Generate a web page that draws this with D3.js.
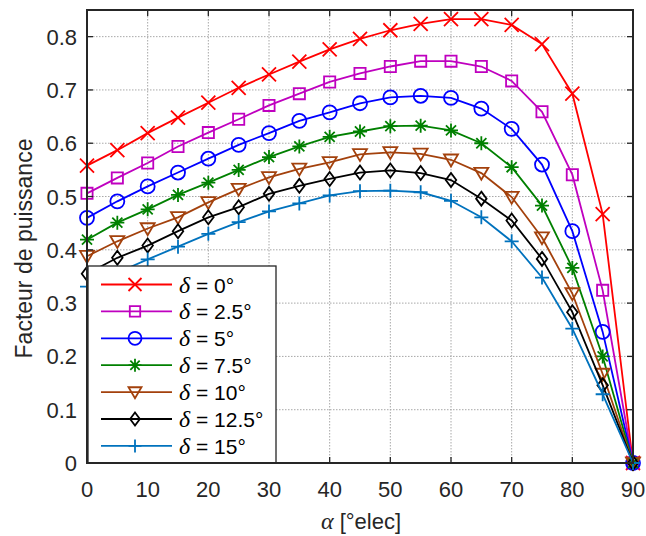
<!DOCTYPE html>
<html>
<head>
<meta charset="utf-8">
<script src="https://cdn.jsdelivr.net/npm/d3@7"></script>
<style>
  body { margin: 0; background: #fff; }
  text { font-family: "Liberation Sans", Arial, Helvetica, sans-serif; fill: #262626; }
</style>
</head>
<body>
<div id="chart"></div>
<script>
// data
var alpha = [0, 5, 10, 15, 20, 25, 30, 35, 40, 45, 50, 55, 60, 65, 70, 75, 80, 85, 90];
var deltaLabels = ["0", "2.5", "5", "7.5", "10", "12.5", "15"];
var pf_d0   = [0.558, 0.587, 0.619, 0.648, 0.676, 0.704, 0.729, 0.753, 0.776, 0.796, 0.812, 0.824, 0.833, 0.833, 0.822, 0.786, 0.693, 0.467, 0];
var pf_d25  = [0.506, 0.535, 0.563, 0.594, 0.620, 0.645, 0.671, 0.693, 0.715, 0.731, 0.744, 0.754, 0.754, 0.744, 0.717, 0.659, 0.541, 0.324, 0];
var pf_d5   = [0.460, 0.491, 0.519, 0.545, 0.571, 0.597, 0.619, 0.642, 0.658, 0.675, 0.686, 0.689, 0.685, 0.665, 0.627, 0.560, 0.435, 0.246, 0];
var pf_d75  = [0.419, 0.451, 0.476, 0.503, 0.526, 0.550, 0.574, 0.594, 0.612, 0.622, 0.632, 0.633, 0.624, 0.600, 0.555, 0.483, 0.366, 0.200, 0];
var pf_d10  = [0.388, 0.416, 0.440, 0.461, 0.489, 0.514, 0.536, 0.552, 0.564, 0.579, 0.583, 0.580, 0.569, 0.544, 0.499, 0.423, 0.318, 0.167, 0];
var pf_d125 = [0.355, 0.385, 0.408, 0.435, 0.461, 0.480, 0.505, 0.520, 0.533, 0.545, 0.549, 0.544, 0.531, 0.496, 0.455, 0.383, 0.283, 0.146, 0];
var pf_d15  = [0.331, 0.357, 0.382, 0.406, 0.430, 0.452, 0.472, 0.487, 0.502, 0.510, 0.511, 0.508, 0.492, 0.461, 0.416, 0.348, 0.252, 0.129, 0];
var xTicks = [0, 10, 20, 30, 40, 50, 60, 70, 80, 90];
var yTicks = [0, 0.1, 0.2, 0.3, 0.4, 0.5, 0.6, 0.7, 0.8];

var allSeries = [pf_d0, pf_d25, pf_d5, pf_d75, pf_d10, pf_d125, pf_d15];
var colors = ["#ff0000", "#bf00bf", "#0000ff", "#008000", "#a3410c", "#000000", "#0072bd"];
var markers = ["x", "square", "circle", "star", "triDown", "diamond", "plus"];

var width = 646, height = 536;
var pLeft = 87, pRight = 633, pTop = 10, pBottom = 463;

var svg = d3.select("#chart").append("svg")
    .attr("width", width)
    .attr("height", height);

var x = d3.scaleLinear().domain([0, 90]).range([pLeft, pRight]);
var y = d3.scaleLinear().domain([0, 0.85]).range([pBottom, pTop]);

// grid
var grid = svg.append("g");
grid.selectAll("line.gx").data(xTicks.slice(1, -1)).enter().append("line")
    .attr("x1", d => x(d)).attr("x2", d => x(d))
    .attr("y1", pTop).attr("y2", pBottom)
    .attr("stroke", "#a8a8a8").attr("stroke-width", 1)
    .attr("stroke-dasharray", "1.5,1.5");
grid.selectAll("line.gy").data(yTicks.slice(1)).enter().append("line")
    .attr("x1", pLeft).attr("x2", pRight)
    .attr("y1", d => y(d)).attr("y2", d => y(d))
    .attr("stroke", "#a8a8a8").attr("stroke-width", 1)
    .attr("stroke-dasharray", "1.5,1.5");

// marker shapes
function markerPath(type, s) {
    var h = s / 2;
    if (type == "x") return "M" + (-h) + "," + (-h) + "L" + h + "," + h + "M" + (-h) + "," + h + "L" + h + "," + (-h);
    if (type == "plus") return "M" + (-h) + ",0L" + h + ",0M0," + (-h) + "L0," + h;
    if (type == "star") {
        var k = h * 0.72;
        return "M" + (-h) + ",0L" + h + ",0M0," + (-h) + "L0," + h +
            "M" + (-k) + "," + (-k) + "L" + k + "," + k + "M" + (-k) + "," + k + "L" + k + "," + (-k);
    }
    if (type == "square") return "M" + (-h * 0.8) + "," + (-h * 0.8) + "h" + (s * 0.8) + "v" + (s * 0.8) + "h" + (-s * 0.8) + "Z";
    if (type == "circle") return d3.symbol(d3.symbolCircle, Math.PI * h * h)();
    if (type == "triDown") return "M" + (-h) + "," + (-h * 0.75) + "L" + h + "," + (-h * 0.75) + "L0," + (h * 0.95) + "Z";
    if (type == "diamond") return "M0," + (-h) + "L" + (h * 0.75) + ",0L0," + h + "L" + (-h * 0.75) + ",0Z";
}

var line = d3.line()
    .x((d, i) => x(alpha[i]))
    .y(d => y(d));

var plot = svg.append("g");
allSeries.forEach(function(vals, k) {
    var g = plot.append("g");
    g.append("path")
        .attr("d", line(vals))
        .attr("fill", "none")
        .attr("stroke", colors[k])
        .attr("stroke-width", 1.8);
    g.selectAll("path.m").data(vals).enter().append("path")
        .attr("class", "m")
        .attr("transform", (d, i) => "translate(" + x(alpha[i]) + "," + y(d) + ")")
        .attr("d", markerPath(markers[k], 14))
        .attr("fill", "none")
        .attr("stroke", colors[k])
        .attr("stroke-width", 1.8);
});

// ticks (inside, mirrored)
var tk = 6;
var axes = svg.append("g").attr("stroke", "#262626").attr("stroke-width", 1.3);
xTicks.forEach(function(t) {
    axes.append("line").attr("x1", x(t)).attr("x2", x(t)).attr("y1", pBottom).attr("y2", pBottom - tk);
    axes.append("line").attr("x1", x(t)).attr("x2", x(t)).attr("y1", pTop).attr("y2", pTop + tk);
});
yTicks.forEach(function(t) {
    axes.append("line").attr("x1", pLeft).attr("x2", pLeft + tk).attr("y1", y(t)).attr("y2", y(t));
    axes.append("line").attr("x1", pRight).attr("x2", pRight - tk).attr("y1", y(t)).attr("y2", y(t));
});

// legend
var legX = 88, legY = 266, legW = 188, legH = 197, rowH = 26.9;
var leg = svg.append("g");
leg.append("rect")
    .attr("x", legX).attr("y", legY)
    .attr("width", legW).attr("height", legH)
    .attr("fill", "#fff")
    .attr("stroke", "#262626").attr("stroke-width", 1.3);
deltaLabels.forEach(function(lab, k) {
    var ry = legY + 18.5 + k * rowH;
    leg.append("line")
        .attr("x1", 101).attr("x2", 172).attr("y1", ry).attr("y2", ry)
        .attr("stroke", colors[k]).attr("stroke-width", 1.8);
    leg.append("path")
        .attr("transform", "translate(135," + ry + ")")
        .attr("d", markerPath(markers[k], 13))
        .attr("fill", "none")
        .attr("stroke", colors[k]).attr("stroke-width", 1.8);
    var t = leg.append("text")
        .attr("x", 179).attr("y", ry + 8)
        .attr("font-size", "21px")
        .style("fill", "#000");
    t.append("tspan")
        .attr("font-family", "'Liberation Serif', 'DejaVu Serif', serif")
        .attr("font-style", "italic")
        .attr("font-size", "24px")
        .text("δ");
    t.append("tspan").text(" = " + lab + "°");
});

// frame
svg.append("rect")
    .attr("x", pLeft).attr("y", pTop)
    .attr("width", pRight - pLeft).attr("height", pBottom - pTop)
    .attr("fill", "none")
    .attr("stroke", "#262626").attr("stroke-width", 2);

// tick labels
svg.selectAll("text.xl").data(xTicks).enter().append("text")
    .attr("x", d => x(d)).attr("y", 497)
    .attr("text-anchor", "middle")
    .attr("font-size", "22px")
    .text(d => d);
svg.selectAll("text.yl").data(yTicks).enter().append("text")
    .attr("x", 77).attr("y", d => y(d) + 8)
    .attr("text-anchor", "end")
    .attr("font-size", "22px")
    .text(d => d3.format("")(d));

// axis titles
var xt = svg.append("text")
    .attr("x", 361).attr("y", 529)
    .attr("text-anchor", "middle")
    .attr("font-size", "22px");
xt.append("tspan")
    .attr("font-family", "'Liberation Serif', 'DejaVu Serif', serif")
    .attr("font-style", "italic")
    .attr("font-size", "24px")
    .text("α");
xt.append("tspan").text(" [°elec]");

svg.append("text")
    .attr("transform", "translate(32," + ((pTop + pBottom) / 2 + 12) + ") rotate(-90)")
    .attr("text-anchor", "middle")
    .attr("font-size", "23px")
    .text("Facteur de puissance");
</script>
</body>
</html>
